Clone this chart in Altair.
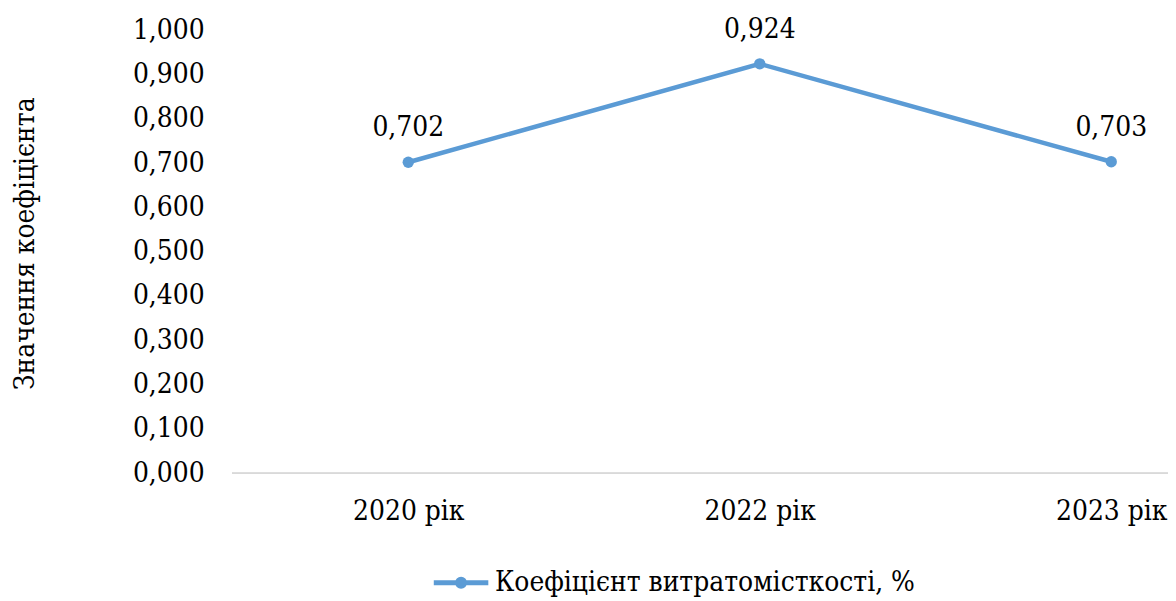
import altair as alt
import pandas as pd

years = ["2020 рік", "2022 рік", "2023 рік"]
values = [0.702, 0.924, 0.703]
series_name = "Коефіцієнт витратомісткості, %"
y_ticks = [0.0, 0.1, 0.2, 0.3, 0.4, 0.5, 0.6, 0.7, 0.8, 0.9, 1.0]

df = pd.DataFrame({"year": years, "value": values, "series": [series_name] * len(years)})

FONT = "DejaVu Serif Condensed, DejaVu Serif"
BLUE = "#5B9BD5"
FS = 28

x_enc = alt.X(
    "year:N",
    sort=years,
    scale=alt.Scale(type="point", range=[177, 883], padding=0),
    axis=alt.Axis(
        title=None, labelAngle=0, ticks=False, domain=False,
        labelFontSize=FS, labelFont=FONT, labelColor="black", labelPadding=24, grid=False,
    ),
)
y_enc = alt.Y(
    "value:Q",
    scale=alt.Scale(domain=[0, 1], nice=False, zero=True),
    axis=alt.Axis(
        title="Значення коефіцієнта", values=y_ticks,
        labelExpr="replace(format(datum.value, '.3f'), '.', ',')",
        domain=False, ticks=False, grid=False,
        labelFontSize=FS, labelFont=FONT, labelColor="black", labelPadding=28,
        titleFontSize=28, titleFont=FONT, titleFontWeight="normal", titleColor="black", titlePadding=93,
        titleY=214,
    ),
)

legend_shape = "M-1,0H1M0.13,0A0.13,0.13,0,1,1,-0.13,0A0.13,0.13,0,1,1,0.13,0Z"

color_enc = alt.Color(
    "series:N",
    scale=alt.Scale(range=[BLUE]),
    legend=alt.Legend(
        title=None, orient="none", legendX=200, legendY=525,
        symbolType=legend_shape, symbolSize=3000, symbolStrokeWidth=5,
        symbolFillColor=BLUE, symbolStrokeColor=BLUE, symbolOpacity=1,
        labelFontSize=28, labelFont=FONT, labelColor="black", labelOffset=4, labelLimit=600,
    ),
)

base = alt.Chart(df).encode(x=x_enc, y=y_enc)

baseline = alt.Chart(df).mark_rule(color="#d9d9d9", strokeWidth=1.5).encode(
    y=alt.datum(0), x=alt.value(0), x2=alt.value(950)
)
line = base.mark_line(strokeWidth=4.5, color=BLUE).encode(color=color_enc)
points = base.mark_point(filled=True, size=130, opacity=1, color=BLUE)
labels = base.mark_text(dy=-34, fontSize=FS, font=FONT, color="black", baseline="middle").transform_calculate(
    label="replace(format(datum.value, '.3f'), '.', ',')"
).encode(text="label:N")

chart = (
    alt.layer(baseline, line, points, labels)
    .properties(
        width=940, height=445,
        background="white",
        autosize=alt.AutoSizeParams(type="none"),
        padding={"left": 225, "top": 21, "right": 0, "bottom": 126},
    )
    .configure_view(strokeWidth=0, stroke="transparent")
)

chart.save("out.html", embed_options={"renderer": "svg", "actions": False})
